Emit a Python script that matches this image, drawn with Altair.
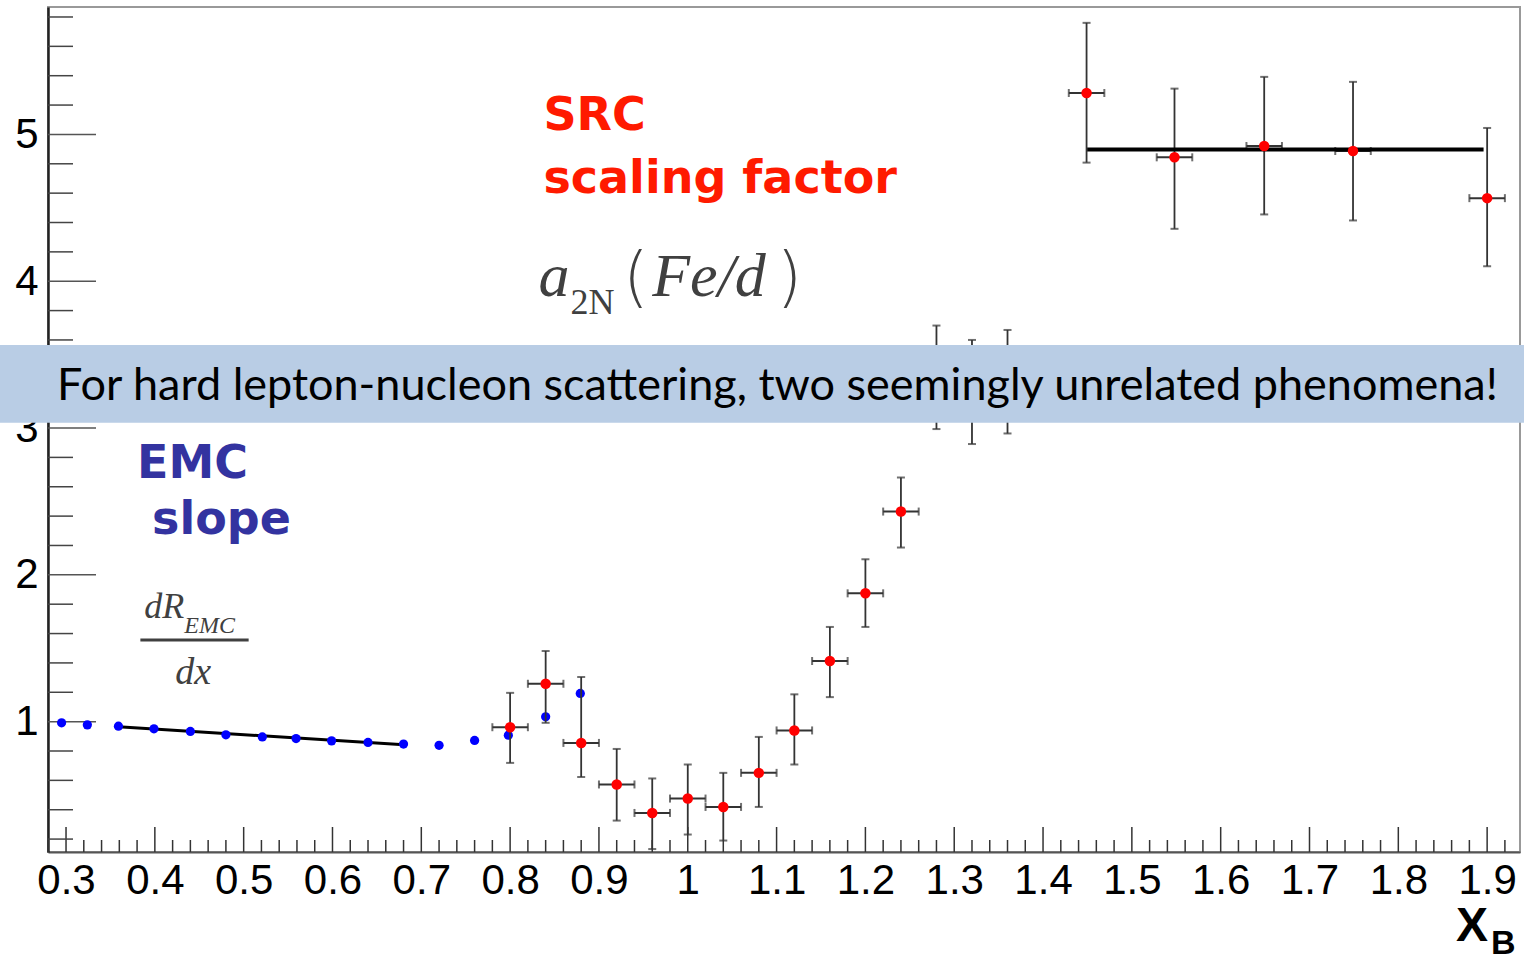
import altair as alt
import pandas as pd

# ---------------- data ----------------
emc_x = [0.295, 0.324, 0.359, 0.399, 0.440, 0.480, 0.521, 0.559, 0.599, 0.640, 0.680, 0.720, 0.760, 0.798, 0.840, 0.879]
emc_y = [0.992, 0.978, 0.969, 0.951, 0.933, 0.910, 0.896, 0.885, 0.869, 0.858, 0.847, 0.839, 0.872, 0.908, 1.033, 1.192]

red_x = [0.80, 0.84, 0.88, 0.92, 0.96, 1.00, 1.04, 1.08, 1.12, 1.16, 1.20, 1.24, 1.28, 1.32, 1.36,
         1.449, 1.548, 1.649, 1.749, 1.90]
red_y = [0.962, 1.258, 0.855, 0.572, 0.378, 0.476, 0.419, 0.651, 0.940, 1.413, 1.874, 2.431, 3.345, 3.246, 3.316,
         5.282, 4.844, 4.921, 4.887, 4.566]
red_lo = [0.719, 0.992, 0.623, 0.326, 0.132, 0.231, 0.190, 0.419, 0.708, 1.167, 1.645, 2.186, 2.993, 2.891, 2.963,
          4.808, 4.357, 4.455, 4.414, 4.102]
red_hi = [1.196, 1.481, 1.304, 0.814, 0.613, 0.708, 0.651, 0.896, 1.186, 1.645, 2.106, 2.663, 3.698, 3.600, 3.668,
          5.760, 5.312, 5.392, 5.358, 5.044]
red_xerr = [0.02] * 20

emc_fit_x = [0.359, 0.676]
emc_fit_y = [0.965, 0.845]
src_fit_x = [1.4497, 1.896]
src_fit_y = [4.898, 4.898]

x_labels = [0.3, 0.4, 0.5, 0.6, 0.7, 0.8, 0.9, 1.0, 1.1, 1.2, 1.3, 1.4, 1.5, 1.6, 1.7, 1.8, 1.9]
y_labels = [1, 2, 3, 4, 5]

banner_text = "For hard lepton-nucleon scattering, two seemingly unrelated phenomena!"

# ---------------- layout ----------------
W, H = 1472, 845
XDOM = [0.2797, 1.937]
YDOM = [0.112, 5.868]

xs = alt.Scale(domain=XDOM, nice=False, zero=False)
ys = alt.Scale(domain=YDOM, nice=False, zero=False)

x_axis = alt.Axis(values=x_labels, format="~g", ticks=False, grid=False, title=None,
                  labelFont="Liberation Sans", labelFontSize=42, labelColor="black",
                  labelPadding=8, domainColor="#555", domainWidth=2, labelFlush=False)
y_axis = alt.Axis(values=y_labels, format="d", ticks=False, grid=False, title=None,
                  labelFont="Liberation Sans", labelFontSize=42, labelColor="black",
                  labelPadding=10, domainColor="#222", domainWidth=2.5)


def X(field):
    return alt.X(field, type="quantitative", scale=xs, axis=x_axis)


def Y(field):
    return alt.Y(field, type="quantitative", scale=ys, axis=y_axis)


emc_df = pd.DataFrame({"x": emc_x, "y": emc_y})
red_df = pd.DataFrame({"x": red_x, "y": red_y, "lo": red_lo, "hi": red_hi})
red_df["xl"] = red_df["x"] - pd.Series(red_xerr)
red_df["xh"] = red_df["x"] + pd.Series(red_xerr)
emc_fit = pd.DataFrame({"x": emc_fit_x, "y": emc_fit_y})
src_fit = pd.DataFrame({"x": src_fit_x, "y": src_fit_y})

# axis tick decorations (drawn inside like ROOT)
xt_minor = [round(0.28 + 0.02 * i, 2) for i in range(83)]
xt_minor = [v for v in xt_minor if v <= 1.93 and round(v * 10, 6) != round(v * 10)]
yt_minor = [round(0.2 * i, 1) for i in range(1, 30) if (2 * i) % 10 != 0]
xt_df_maj = pd.DataFrame({"x": x_labels})
xt_df_min = pd.DataFrame({"x": xt_minor})
yt_df_maj = pd.DataFrame({"y": y_labels})
yt_df_min = pd.DataFrame({"y": yt_minor})

base_axes = alt.Chart(emc_df).mark_point(opacity=0).encode(x=X("x"), y=Y("y"))

xtick_major = alt.Chart(xt_df_maj).mark_rule(color="#333", strokeWidth=1.5).encode(
    x=X("x"), y=alt.value(H), y2=alt.value(H - 25))
xtick_minor = alt.Chart(xt_df_min).mark_rule(color="#333", strokeWidth=1.5).encode(
    x=X("x"), y=alt.value(H), y2=alt.value(H - 12))
ytick_major = alt.Chart(yt_df_maj).mark_rule(color="#555", strokeWidth=1.5).encode(
    y=Y("y"), x=alt.value(0), x2=alt.value(48))
ytick_minor = alt.Chart(yt_df_min).mark_rule(color="#444", strokeWidth=1.5).encode(
    y=Y("y"), x=alt.value(0), x2=alt.value(25))

err_col = "#333"
v_err = alt.Chart(red_df).mark_rule(color=err_col, strokeWidth=1.8).encode(
    x=X("x"), y=Y("lo"), y2="hi")
h_err = alt.Chart(red_df).mark_rule(color=err_col, strokeWidth=2).encode(
    x=X("xl"), x2="xh", y=Y("y"))
cap_lo = alt.Chart(red_df).mark_tick(color=err_col, orient="horizontal", size=8, thickness=2).encode(
    x=X("x"), y=Y("lo"))
cap_hi = alt.Chart(red_df).mark_tick(color=err_col, orient="horizontal", size=8, thickness=2).encode(
    x=X("x"), y=Y("hi"))
cap_l = alt.Chart(red_df).mark_tick(color=err_col, orient="vertical", size=8, thickness=2).encode(
    x=X("xl"), y=Y("y"))
cap_r = alt.Chart(red_df).mark_tick(color=err_col, orient="vertical", size=8, thickness=2).encode(
    x=X("xh"), y=Y("y"))

fit1 = alt.Chart(emc_fit).mark_line(color="black", strokeWidth=3).encode(x=X("x"), y=Y("y"))
fit2 = alt.Chart(src_fit).mark_line(color="black", strokeWidth=4).encode(x=X("x"), y=Y("y"))

blue_pts = alt.Chart(emc_df).mark_circle(color="#0000ff", size=85, opacity=1).encode(x=X("x"), y=Y("y"))
red_pts = alt.Chart(red_df).mark_circle(color="#ff0000", size=110, opacity=1).encode(x=X("x"), y=Y("y"))


def label(txt, x, y, size, color, font, weight="normal", style="normal", align="left"):
    return alt.Chart(pd.DataFrame({"x": [x], "y": [y]})).mark_text(
        text=txt, font=font, fontSize=size, color=color, fontWeight=weight, fontStyle=style,
        align=align, baseline="alphabetic").encode(x=X("x"), y=Y("y"))


red_c = "#ff1a00"
blue_c = "#3333a0"
gray_c = "#404040"
annots = [
    label("SRC", 0.8375, 5.028, 46, red_c, "DejaVu Sans", "bold"),
    label("scaling factor", 0.8375, 4.598, 46, red_c, "DejaVu Sans", "bold"),
    label("EMC", 0.380, 2.663, 46, blue_c, "DejaVu Sans", "bold"),
    label("slope", 0.3968, 2.277, 46, blue_c, "DejaVu Sans", "bold"),
    label("a", 0.832, 3.902, 62, gray_c, "Liberation Serif", style="italic"),
    label("2N", 0.868, 3.780, 36, gray_c, "Liberation Serif"),
    label("(", 0.927, 3.88, 66, gray_c, "DejaVu Sans", weight=200),
    label("Fe/d", 0.960, 3.902, 62, gray_c, "Liberation Serif", style="italic"),
    label(")", 1.100, 3.88, 66, gray_c, "DejaVu Sans", weight=200),
    label("dR", 0.3882, 1.708, 36, gray_c, "Liberation Serif", style="italic"),
    label("EMC", 0.4332, 1.606, 24, gray_c, "Liberation Serif", style="italic"),
    label("dx", 0.4231, 1.254, 38, gray_c, "Liberation Serif", style="italic"),
]
frac_bar = alt.Chart(pd.DataFrame({"x": [0.3837], "x2": [0.5056], "y": [1.556]})).mark_rule(
    color=gray_c, strokeWidth=3).encode(x=X("x"), x2="x2", y=Y("y"))

one = pd.DataFrame({"a": [0]})
xb_X = alt.Chart(one).mark_text(text="X", font="Liberation Sans", fontWeight="bold", fontSize=48,
                                color="black", align="left", baseline="alphabetic").encode(
    x=alt.value(1408), y=alt.value(934))
xb_B = alt.Chart(one).mark_text(text="B", font="Liberation Sans", fontWeight="bold", fontSize=34,
                                color="black", align="left", baseline="alphabetic").encode(
    x=alt.value(1443), y=alt.value(947))

banner = alt.Chart(one).mark_rect(color="#b9cde5").encode(
    x=alt.value(-48), x2=alt.value(1476), y=alt.value(338), y2=alt.value(415.7))
banner_t = alt.Chart(one).mark_text(text=banner_text, font="Lato", fontSize=45, color="black",
                                    align="left", baseline="alphabetic").encode(
    x=alt.value(9), y=alt.value(393))

chart = alt.layer(
    base_axes, xtick_major, xtick_minor, ytick_major, ytick_minor,
    fit1, blue_pts, v_err, h_err, cap_lo, cap_hi, cap_l, cap_r, fit2, red_pts,
    *annots, frac_bar, xb_X, xb_B, banner, banner_t
).properties(
    width=W, height=H,
    autosize=alt.AutoSizeParams(type="none"),
    padding={"left": 48, "top": 7, "right": 4, "bottom": 108},
    background="white",
).configure_view(stroke="#999", strokeWidth=2)

chart.save("out.html", embed_options={"renderer": "svg", "actions": False})
